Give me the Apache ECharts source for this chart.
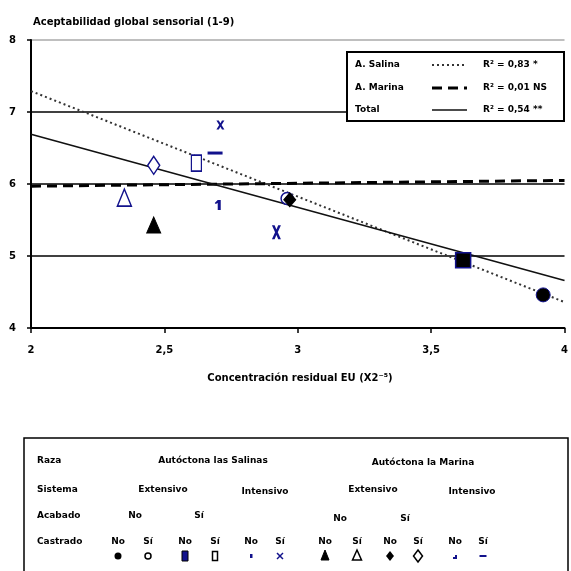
<!DOCTYPE html>
<html><head><meta charset="utf-8">
<script src="https://cdn.jsdelivr.net/npm/echarts@6/dist/echarts.min.js"></script>
<style>html,body{margin:0;padding:0;background:#fff}#c{width:571px;height:571px}</style>
</head><body><div id="c"></div>
<script>
// ---- data ----
const xTicks = ['2', '2,5', '3', '3,5', '4'];
const yTicks = ['4', '5', '6', '7', '8'];
const pointNames = ['Sal Ext No No','Sal Ext No Si','Sal Ext Si No','Sal Ext Si Si','Sal Int No','Sal Int Si',
                    'Mar Ext No No','Mar Ext No Si','Mar Ext Si No','Mar Ext Si Si','Mar Int No','Mar Int Si'];
const pointX = [3.92, 2.96, 3.62, 2.62, 2.70, 2.71, 2.46, 2.35, 2.97, 2.46, 2.92, 2.69];
const pointY = [4.46, 5.80, 4.94, 6.29, 5.71, 6.82, 5.43, 5.81, 5.78, 6.26, 5.33, 6.43];
const regNames = ['A. Salina', 'A. Marina', 'Total'];
const regSlope = [-1.465, 0.04, -1.015];
const regIntercept = [10.22, 5.89, 8.72];
const regR2 = ['R² = 0,83 *', 'R² = 0,01 NS', 'R² = 0,54 **'];
const xRange = [2, 4];
const tableRows = ['Raza', 'Sistema', 'Acabado', 'Castrado'];
const razas = ['Autóctona las Salinas', 'Autóctona la Marina'];
const sistemas = ['Extensivo', 'Intensivo', 'Extensivo', 'Intensivo'];
const acabados = ['No', 'Sí', 'No', 'Sí'];
const castrados = ['No', 'Sí'];

// ---- styles ----
const NAVY = '#12128c';
const pX = 'path://M0,0L3,0L5,3L7,0L10,0L6.5,5L10,10L7,10L5,7L3,10L0,10L3.5,5Z';
const pOne = 'path://M3,0L6,0L6,10L3,10L3,3L1,4L0,3Z';
const pDash = 'path://M0,0L10,0L10,2L0,2Z';
const pointStyle = [
  {symbol:'circle', size:14, color:'#000', border:NAVY, bw:1},
  {symbol:'circle', size:12, color:'#fff', border:NAVY, bw:1.5},
  {symbol:'rect', size:[15,15], color:'#000', border:NAVY, bw:1.5},
  {symbol:'rect', size:[10,16], color:'#fff', border:NAVY, bw:1.5},
  {symbol:pOne, size:[6,10], color:NAVY, border:NAVY, bw:0},
  {symbol:pX, size:[8,9], color:NAVY, border:NAVY, bw:0},
  {symbol:'triangle', size:[14,16], color:'#000', border:'#000', bw:1},
  {symbol:'triangle', size:[14,17], color:'#fff', border:NAVY, bw:1.5},
  {symbol:'diamond', size:[12,14], color:'#000', border:'#000', bw:1},
  {symbol:'diamond', size:[12,18], color:'#fff', border:NAVY, bw:1.5},
  {symbol:pX, size:[9,14], color:NAVY, border:NAVY, bw:0},
  {symbol:pDash, size:[15,3], color:NAVY, border:NAVY, bw:0}
];
const regStyle = [
  {type:[2,3], width:2, color:'#333'},
  {type:[10,6], width:3, color:'#000'},
  {type:'solid', width:1.6, color:'#111'}
];

const series = [];
regNames.forEach((n, i) => {
  series.push({
    type:'line', name:n, symbol:'none', silent:true, z:3,
    data: xRange.map(x => [x, regIntercept[i] + regSlope[i]*x]),
    lineStyle:{type:regStyle[i].type, width:regStyle[i].width, color:regStyle[i].color}
  });
});
pointNames.forEach((n, i) => {
  const s = pointStyle[i];
  series.push({
    type:'scatter', name:n, z:5, symbol:s.symbol, symbolSize:s.size,
    data:[[pointX[i], pointY[i]]],
    itemStyle:{color:s.color, borderColor:s.border, borderWidth:s.bw, opacity:1}
  });
});

const FF = '"DejaVu Sans", Verdana, sans-serif';
const F = 'bold 9px ' + FF;
const txt = (x, y, t, align, font) => ({type:'text', x, y, z:20,
  style:{text:t, font:font||F, fill:'#000', align:align||'left', verticalAlign:'middle'}});

// top-right legend box
const legG = [{type:'rect', z:19, shape:{x:347, y:52, width:217, height:69},
  style:{fill:'#fff', stroke:'#000', lineWidth:2}}];
const legRowY = [65, 88, 110];
regNames.forEach((n, i) => {
  legG.push(txt(355, legRowY[i], n));
  legG.push({type:'line', z:20, shape:{x1:432, y1:legRowY[i], x2:467, y2:legRowY[i]},
    style:{stroke:regStyle[i].color, lineWidth:regStyle[i].width, lineDash:regStyle[i].type==='solid'?null:regStyle[i].type}});
  legG.push(txt(483, legRowY[i], regR2[i]));
});

// bottom table (legend of the point markers)
const tab = [{type:'rect', z:18, shape:{x:24, y:438, width:544, height:150},
  style:{fill:'#fff', stroke:'#000', lineWidth:1.5}}];
const rowY = [461, 490, 516, 542];
tableRows.forEach((r, i) => tab.push(txt(37, rowY[i], r)));
tab.push(txt(213, 461, razas[0], 'center'), txt(423, 463, razas[1], 'center'));
[163, 265, 373, 472].forEach((x, k) => tab.push(txt(x, k % 2 ? 492 : 490, sistemas[k], 'center')));
[135, 199, 340, 405].forEach((x, k) => tab.push(txt(x, k < 2 ? 516 : 519, acabados[k], 'center')));
const colX = [118,148,185,215,251,280,325,357,390,418,455,483];
const MY = 556;
const keyShape = [
  (x) => ({type:'circle', shape:{cx:x, cy:MY, r:3.5}, style:{fill:'#000'}}),
  (x) => ({type:'circle', shape:{cx:x, cy:MY, r:3}, style:{fill:'#fff', stroke:'#000', lineWidth:1.5}}),
  (x) => ({type:'rect', shape:{x:x-3, y:MY-5, width:6, height:10}, style:{fill:NAVY, stroke:'#000', lineWidth:1}}),
  (x) => ({type:'rect', shape:{x:x-2.5, y:MY-4.5, width:5, height:9}, style:{fill:'#fff', stroke:'#000', lineWidth:1.5}}),
  (x) => ({type:'rect', shape:{x:x-1, y:MY-2, width:2.5, height:4}, style:{fill:NAVY}}),
  (x) => ({type:'polyline', shape:{points:[[x-3,MY-3],[x+3,MY+3]]}, style:{stroke:NAVY, lineWidth:1.5}}),
  (x) => ({type:'polygon', shape:{points:[[x,MY-6],[x+4,MY+4],[x-4,MY+4]]}, style:{fill:'#000', stroke:'#000', lineWidth:1}}),
  (x) => ({type:'polygon', shape:{points:[[x,MY-6],[x+4.5,MY+4],[x-4.5,MY+4]]}, style:{fill:'#fff', stroke:'#000', lineWidth:1.5}}),
  (x) => ({type:'polygon', shape:{points:[[x,MY-5],[x+4,MY],[x,MY+5],[x-4,MY]]}, style:{fill:'#000'}}),
  (x) => ({type:'polygon', shape:{points:[[x,MY-6],[x+4.5,MY],[x,MY+6],[x-4.5,MY]]}, style:{fill:'#fff', stroke:'#000', lineWidth:1.5}}),
  (x) => ({type:'polyline', shape:{points:[[x-2,MY+2],[x+1,MY+2],[x+1,MY-1]]}, style:{stroke:NAVY, lineWidth:2}}),
  (x) => ({type:'rect', shape:{x:x-3.5, y:MY-1, width:7, height:2}, style:{fill:NAVY}})
];
colX.forEach((x, i) => {
  tab.push(txt(x, 542, castrados[i % 2], 'center'));
  const g = keyShape[i](x);
  g.z = 20;
  tab.push(g);
  if (i === 5) tab.push({type:'polyline', z:20, shape:{points:[[x+3,MY-3],[x-3,MY+3]]}, style:{stroke:NAVY, lineWidth:1.5}});
});

const chart = echarts.init(document.getElementById('c'));
const lab = {fontFamily:FF, fontWeight:'bold', fontSize:10, color:'#000'};
const opt = {
  animation:false,
  grid:{left:31, right:2, top:40, bottom:243},
  xAxis:{type:'value', min:2, max:4, interval:0.5,
    axisLine:{show:true, onZero:false, lineStyle:{color:'#000', width:2}},
    axisTick:{show:true, length:5, lineStyle:{color:'#000', width:1.5}},
    axisLabel:Object.assign({margin:17, formatter:(v)=>xTicks[Math.round((v-2)/0.5)]}, lab),
    splitLine:{show:false}},
  yAxis:{type:'value', min:4, max:8, interval:1,
    axisLine:{show:true, onZero:false, lineStyle:{color:'#000', width:2}},
    axisTick:{show:true, length:4, lineStyle:{color:'#000', width:1.5}},
    axisLabel:Object.assign({margin:15, formatter:(v)=>yTicks[Math.round(v-4)]}, lab),
    splitLine:{show:true, lineStyle:{color:['#999','#000','#000','#000','#aaa'], width:1.5}}},
  series:series,
  graphic:[
    txt(33, 22, 'Aceptabilidad global sensorial (1-9)', 'left', 'bold 10px ' + FF),
    txt(300, 378, 'Concentración residual EU (X2⁻⁵)', 'center', 'bold 10px ' + FF)
  ].concat(legG, tab)
};
chart.setOption(opt);
</script></body></html>
